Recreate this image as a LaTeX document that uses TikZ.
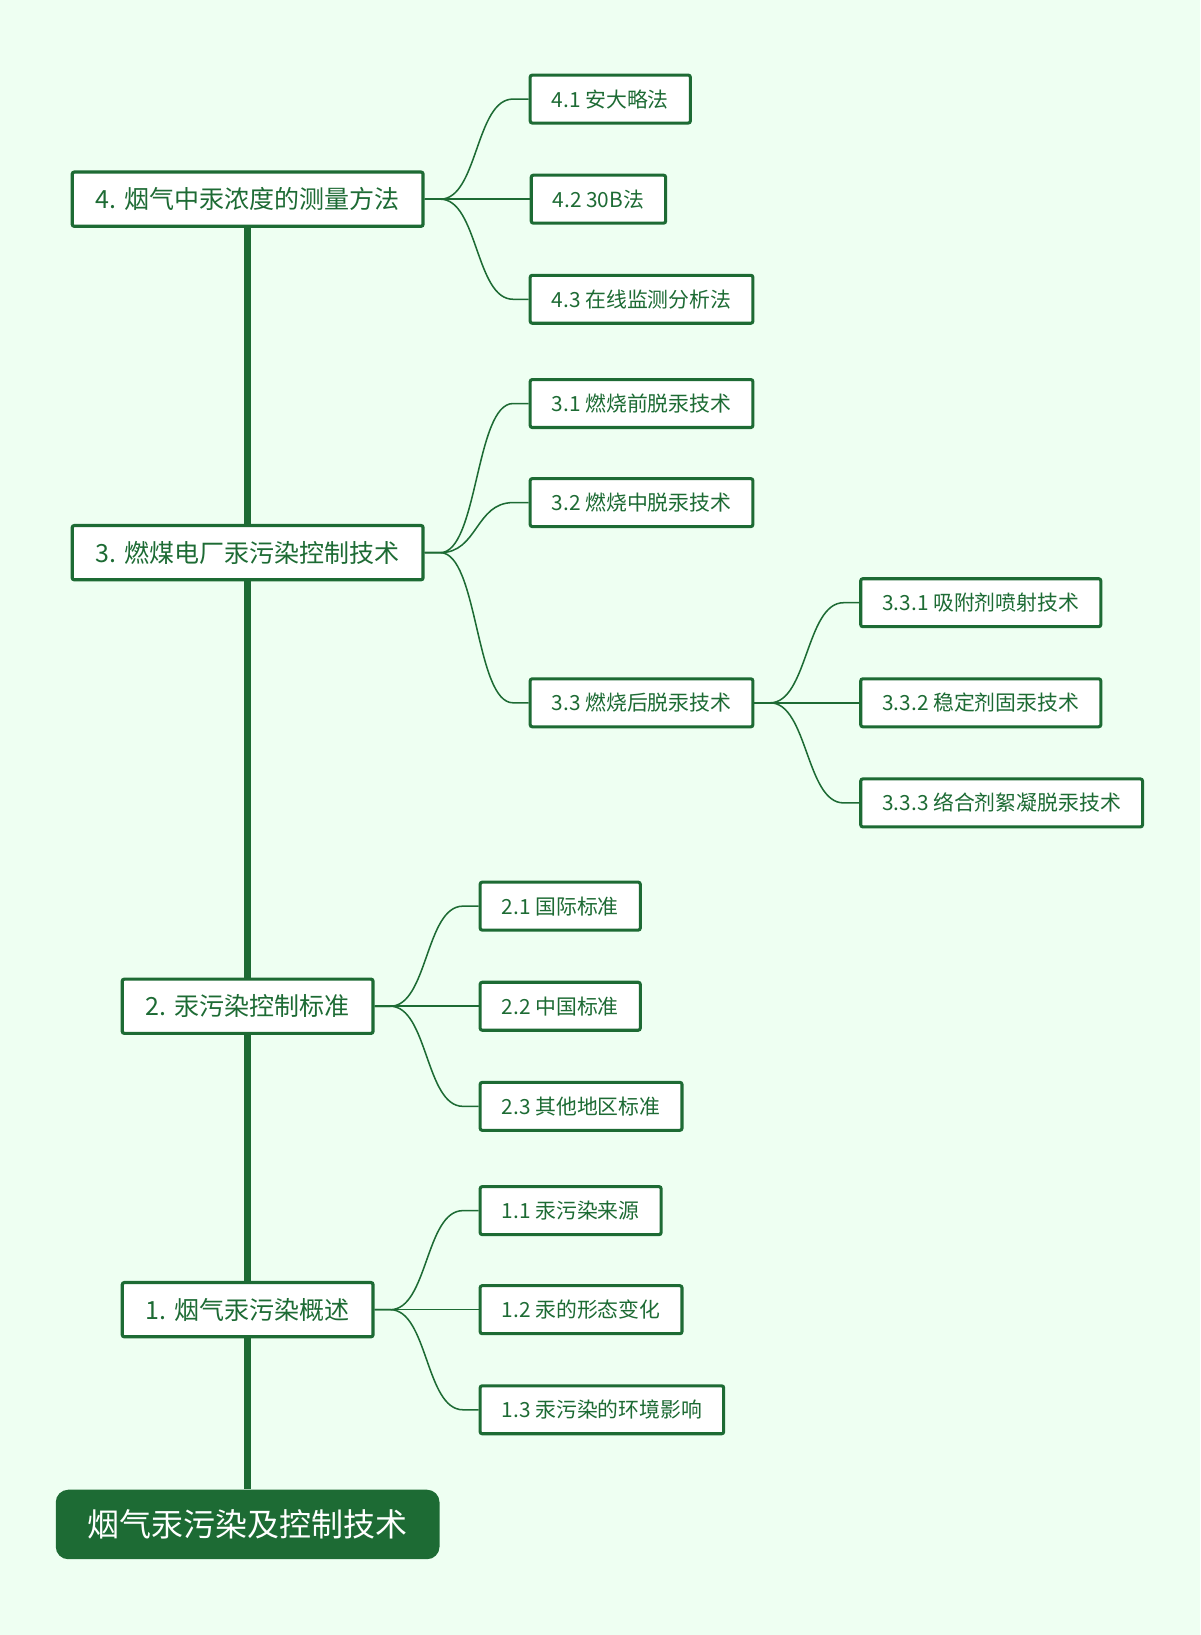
\documentclass[tikz,border=0pt]{standalone}
\usepackage{fontspec}
\setmainfont{Noto Sans CJK SC}
\usetikzlibrary{calc}
\definecolor{leaf}{HTML}{1D6B34}
\definecolor{paper}{HTML}{EEFFF2}
\tikzset{
  topic/.style={draw=leaf, line width=2.3pt, fill=white, text=leaf, font=\fontsize{18}{21}\selectfont, inner xsep=17pt, minimum height=39pt, rounded corners=1.5pt},
  subtopic/.style={draw=leaf, line width=2.2pt, fill=white, text=leaf, font=\fontsize{15}{18}\selectfont, inner xsep=15.5pt, minimum height=34.5pt, anchor=west, rounded corners=1.5pt},
  rootbox/.style={fill=leaf, text=white, rounded corners=9pt, font=\fontsize{23}{27}\selectfont, inner xsep=23pt, minimum height=50pt},
  trunk/.style={leaf, line width=5pt},
  twig/.style={leaf, line width=1.1pt},
}
\newcommand\branch[2]{\draw[twig] (#1.east) -- ++(15,0) .. controls +(36,0) and +(-36,0) .. ($(#2.west)+(-15,0)$) -- (#2.west);}
\begin{document}
\begin{tikzpicture}[x=0.75pt,y=-0.75pt]
 \fill[paper] (0,0) rectangle (1151,1568);
 % main topics
 \node[topic] (t4) at (237.5,191) {4. 烟气中汞浓度的测量方法};
 \node[topic] (t3) at (237.5,530) {3. 燃煤电厂汞污染控制技术};
 \node[topic] (t2) at (237.5,965) {2. 汞污染控制标准};
 \node[topic] (t1) at (237.5,1256) {1. 烟气汞污染概述};
 \node[rootbox] (root) at (237.5,1462) {烟气汞污染及控制技术};
 \draw[trunk] (t4.south) -- (t3.north);
 \draw[trunk] (t3.south) -- (t2.north);
 \draw[trunk] (t2.south) -- (t1.north);
 \draw[trunk] (t1.south) -- (root.north);
 % subtopics
 \foreach \nm/\x/\y/\txt in {s41/507/95/4.1 安大略法, s42/508/191/4.2 30B法, s43/507/287/4.3 在线监测分析法,
   s31/507/387/3.1 燃烧前脱汞技术, s32/507/482/3.2 燃烧中脱汞技术, s33/507/674/3.3 燃烧后脱汞技术,
   s331/824/578/3.3.1 吸附剂喷射技术, s332/824/674/3.3.2 稳定剂固汞技术, s333/824/770/3.3.3 络合剂絮凝脱汞技术,
   s21/459/869/2.1 国际标准, s22/459/965/2.2 中国标准, s23/459/1061/2.3 其他地区标准,
   s11/459/1161/1.1 汞污染来源, s12/459/1256/1.2 汞的形态变化, s13/459/1352/1.3 汞污染的环境影响}
   \node[subtopic] (\nm) at (\x,\y) {\txt};
 % connectors
 \foreach \p/\c in {t4/s41, t4/s42, t4/s43, t3/s31, t3/s32, t3/s33, s33/s331, s33/s332, s33/s333,
   t2/s21, t2/s22, t2/s23, t1/s11, t1/s12, t1/s13}
   {\branch{\p}{\c}}
\end{tikzpicture}
\end{document}
